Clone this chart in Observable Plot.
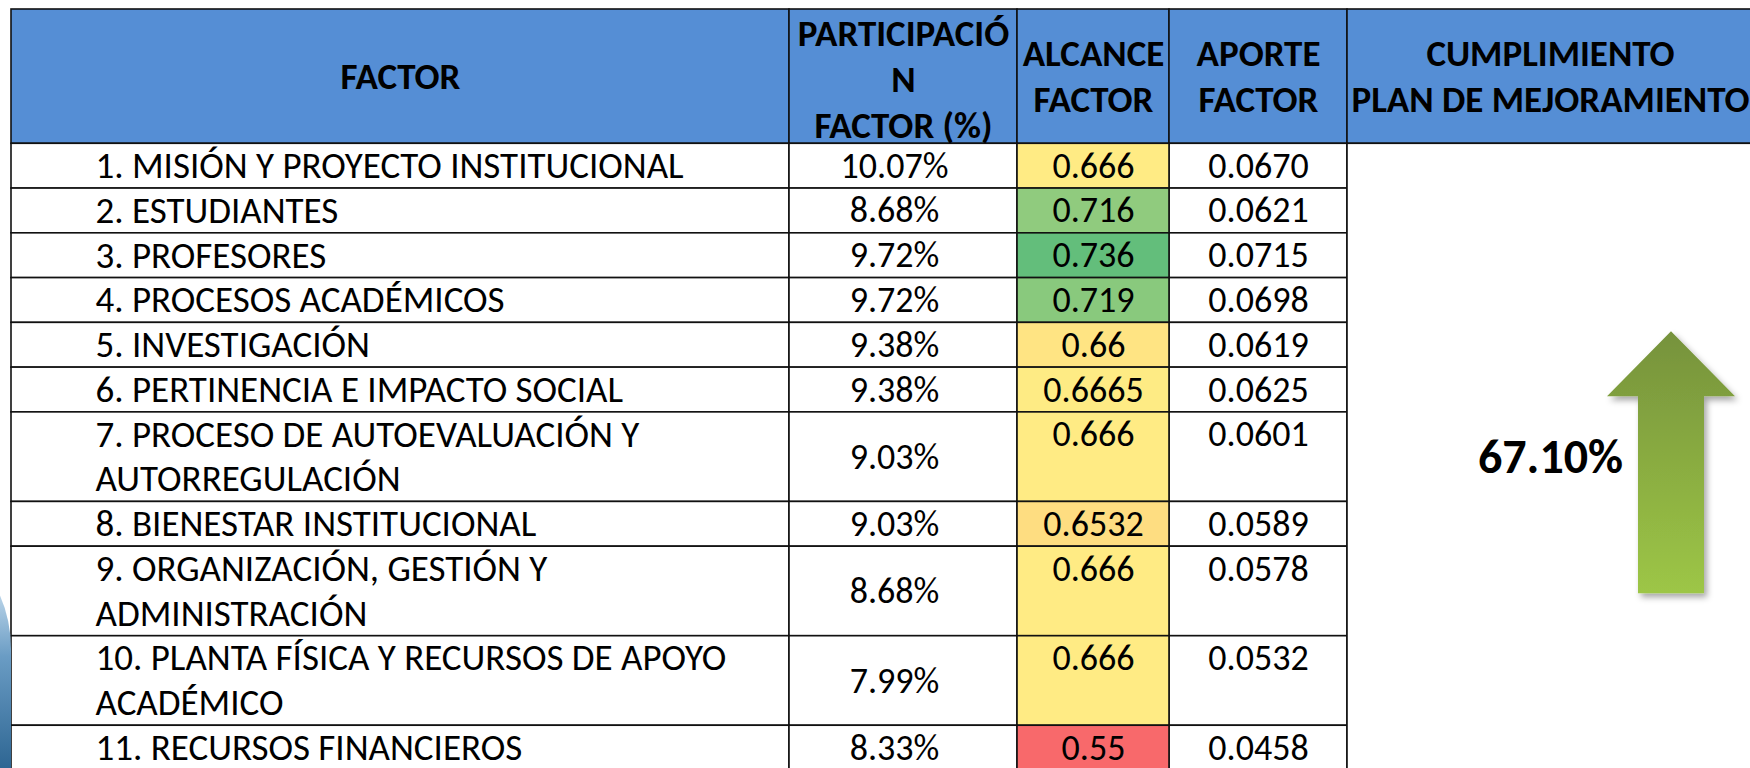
<!DOCTYPE html>
<html>
<head>
<meta charset="utf-8">
<script src="https://cdn.jsdelivr.net/npm/d3@7"></script>
<script src="https://cdn.jsdelivr.net/npm/@observablehq/plot@0.6"></script>
<style>
  html, body { margin: 0; padding: 0; background: #ffffff; }
  #chart { width: 1750px; height: 768px; overflow: hidden; }
</style>
</head>
<body>
<div id="chart"></div>
<script>
// ---------- DATA ----------
const headers = [
  "FACTOR",
  "PARTICIPACIÓ\nN\nFACTOR (%)",
  "ALCANCE\nFACTOR",
  "APORTE\nFACTOR",
  "CUMPLIMIENTO\nPLAN DE MEJORAMIENTO"
];
const factors = [
  "1. MISIÓN Y PROYECTO INSTITUCIONAL",
  "2. ESTUDIANTES",
  "3. PROFESORES",
  "4. PROCESOS ACADÉMICOS",
  "5. INVESTIGACIÓN",
  "6. PERTINENCIA E IMPACTO SOCIAL",
  "7. PROCESO DE AUTOEVALUACIÓN Y\nAUTORREGULACIÓN",
  "8. BIENESTAR INSTITUCIONAL",
  "9. ORGANIZACIÓN, GESTIÓN Y\nADMINISTRACIÓN",
  "10. PLANTA FÍSICA Y RECURSOS DE APOYO\nACADÉMICO",
  "11. RECURSOS FINANCIEROS"
];
const participacion = [10.07, 8.68, 9.72, 9.72, 9.38, 9.38, 9.03, 9.03, 8.68, 7.99, 8.33];
const alcance = [0.666, 0.716, 0.736, 0.719, 0.66, 0.6665, 0.666, 0.6532, 0.666, 0.666, 0.55];
const aporte = [0.0670, 0.0621, 0.0715, 0.0698, 0.0619, 0.0625, 0.0601, 0.0589, 0.0578, 0.0532, 0.0458];
const cumplimiento = 67.10;

// ---------- LAYOUT (styles / positions) ----------
const layout = {
  colEdges: [11, 789, 1017, 1169, 1347, 1753],
  headerLines: 3,
  headerLineStep: 1.03,
  factorX: 95,
  partOffset: -9,
  top: 9,
  bottom: 770,
  headerFill: "#558ED5",
  border: "#111111",
  font: "Carlito, Calibri, 'Liberation Sans', Arial, sans-serif",
  fsBody: 37,
  fsNum: 36,
  fsHead: 37,
  fsBig: 48,
  arrow: { cx: 1671, headHalf: 64, shaftHalf: 33, tip: 7.2, base: 8.65, end: 13.05 }
};

// ---------- derived table structure ----------
const nLines = factors.map(f => f.split("\n").length);
const rowStart = [];
let acc = layout.headerLines;
nLines.forEach(n => { rowStart.push(acc); acc += n; });
const totalLines = acc;
const E = layout.colEdges;

const rows = factors.map((f, i) => ({
  i, factor: f, part: participacion[i], alc: alcance[i], apo: aporte[i],
  y1: rowStart[i], y2: rowStart[i] + nLines[i]
}));

const headerCells = headers.map((h, c) => ({c, x1: E[c], x2: E[c + 1]}));
const headerText = headers.flatMap((h, c) => {
  const ls = h.split("\n");
  const n = ls.length;
  return ls.map((t, j) => ({
    text: t, x: (E[c] + E[c + 1]) / 2,
    y: layout.headerLines / 2 + (j - (n - 1) / 2) * layout.headerLineStep + (n === 3 ? 0.08 : 0.02)
  }));
});
const factorText = rows.flatMap(r => r.factor.split("\n").map((t, j) => ({text: t, y: r.y1 + j + 0.5})));

const whiteCells = rows.flatMap(r => [0, 1, 3].map(c => ({...r, c, x1: E[c], x2: E[c + 1]})));

const mid = c => (E[c] + E[c + 1]) / 2;

// arrow as custom render mark
function arrowMark(index, scales, values, dimensions, context) {
  const {x, y} = scales;
  const a = layout.arrow;
  const ns = "http://www.w3.org/2000/svg";
  const g = document.createElementNS(ns, "g");
  const defs = document.createElementNS(ns, "defs");
  defs.innerHTML = `
    <linearGradient id="arrowGrad" x1="0" y1="0" x2="0" y2="1">
      <stop offset="0" stop-color="#76923C"/>
      <stop offset="1" stop-color="#9DC646"/>
    </linearGradient>
    <linearGradient id="edgeGrad" x1="0" y1="0" x2="0" y2="1">
      <stop offset="0" stop-color="#b8d3e8"/>
      <stop offset="0.35" stop-color="#6a9cc4"/>
      <stop offset="1" stop-color="#2d6592"/>
    </linearGradient>
    <filter id="arrowShadow" x="-30%" y="-30%" width="160%" height="160%">
      <feDropShadow dx="3" dy="4" stdDeviation="3" flood-color="#000" flood-opacity="0.35"/>
    </filter>`;
  g.appendChild(defs);
  const pts = [
    [x(a.cx), y(a.tip)],
    [x(a.cx + a.headHalf), y(a.base)],
    [x(a.cx + a.shaftHalf), y(a.base)],
    [x(a.cx + a.shaftHalf), y(a.end)],
    [x(a.cx - a.shaftHalf), y(a.end)],
    [x(a.cx - a.shaftHalf), y(a.base)],
    [x(a.cx - a.headHalf), y(a.base)]
  ];
  const p = document.createElementNS(ns, "path");
  p.setAttribute("d", "M" + pts.map(q => q.join(",")).join("L") + "Z");
  p.setAttribute("fill", "url(#arrowGrad)");
  p.setAttribute("filter", "url(#arrowShadow)");
  g.appendChild(p);
  // decorative blue shape at the left edge
  const e = document.createElementNS(ns, "path");
  const yA = y(13.1), yB = y(14.3), yC = y(totalLines);
  e.setAttribute("d", `M0,${yA} Q${x(E[0])},${yA + 25} ${x(E[0])},${yB} L${x(E[0])},${yC} L0,${yC} Z`);
  e.setAttribute("fill", "url(#edgeGrad)");
  g.appendChild(e);
  return g;
}

const plot = Plot.plot({
  width: 1750,
  height: 768,
  margin: 0,
  x: {type: "linear", domain: [0, 1750], range: [0, 1750], axis: null},
  y: {type: "linear", domain: [0, totalLines], range: [layout.top, layout.bottom], axis: null},
  color: {type: "linear", domain: [0.55, 0.666, 0.736], range: ["#F8696B", "#FFEB84", "#63BE7B"], interpolate: "rgb"},
  style: {background: "#ffffff", fontFamily: layout.font, overflow: "hidden"},
  marks: [
    // header cells
    Plot.rect(headerCells, {x1: "x1", x2: "x2", y1: 0, y2: layout.headerLines, fill: layout.headerFill, stroke: layout.border, strokeWidth: 1.6}),
    // white body cells
    Plot.rect(whiteCells, {x1: "x1", x2: "x2", y1: "y1", y2: "y2", fill: "#ffffff", stroke: layout.border, strokeWidth: 1.6}),
    // alcance cells, coloured by value
    Plot.rect(rows, {x1: E[2], x2: E[3], y1: "y1", y2: "y2", fill: "alc", stroke: layout.border, strokeWidth: 1.6}),
    // merged cell
    Plot.rect([{}], {x1: E[4], x2: E[5], y1: layout.headerLines, y2: totalLines, fill: "#ffffff", stroke: layout.border, strokeWidth: 1.6}),
    // header text
    Plot.text(headerText, {x: "x", y: "y", text: "text", fontWeight: "bold", fontSize: layout.fsHead, fill: "#000", textAnchor: "middle"}),
    // factor names
    Plot.text(factorText, {x: layout.factorX, y: "y", text: "text", textAnchor: "start", fontSize: layout.fsBody, fill: "#000"}),
    // participacion
    Plot.text(rows, {x: mid(1) + layout.partOffset, y: d => (d.y1 + d.y2) / 2, text: d => d.part.toFixed(2) + "%", fontSize: layout.fsNum, fill: "#000"}),
    // alcance
    Plot.text(rows, {x: mid(2), y: d => d.y1 + 0.5, text: d => String(d.alc), fontSize: layout.fsNum, fill: "#000"}),
    // aporte
    Plot.text(rows, {x: mid(3), y: d => d.y1 + 0.5, text: d => d.apo.toFixed(4), fontSize: layout.fsNum, fill: "#000"}),
    // cumplimiento value
    Plot.text([cumplimiento], {x: mid(4), y: (layout.headerLines + totalLines) / 2, text: d => d.toFixed(2) + "%", fontWeight: "bold", fontSize: layout.fsBig, fill: "#000"}),
    // arrow + decoration
    arrowMark
  ]
});
document.getElementById("chart").appendChild(plot);
</script>
</body>
</html>
